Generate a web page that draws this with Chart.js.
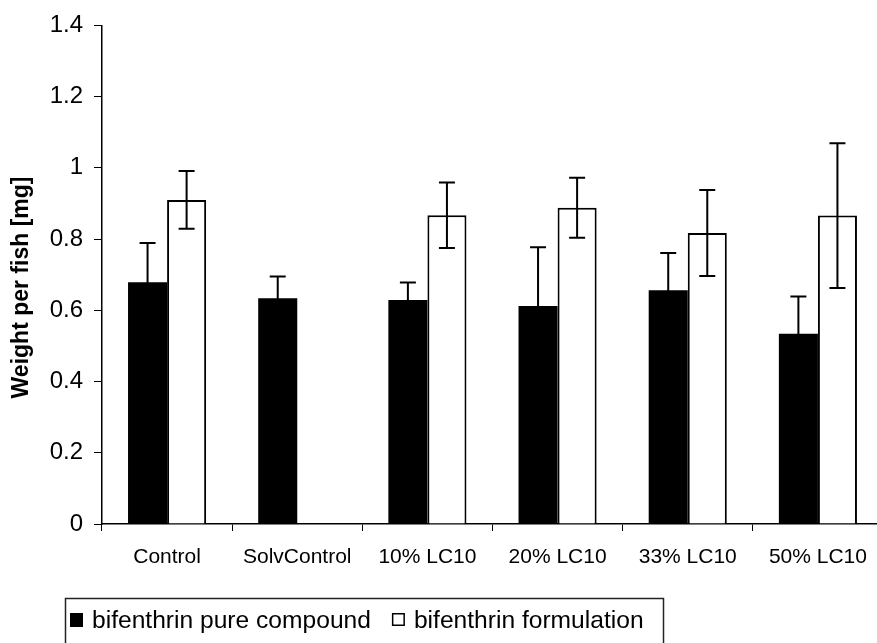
<!DOCTYPE html>
<html>
<head>
<meta charset="utf-8">
<script src="https://cdn.jsdelivr.net/npm/chart.js@4.4.1/dist/chart.umd.min.js"></script>
<style>
  html, body { margin: 0; padding: 0; background: #fff; }
  #wrap { width: 877px; height: 643px; overflow: hidden; position: relative; background: #fff; }
  canvas { display: block; }
</style>
</head>
<body>
<div id="wrap"><canvas id="c" width="883" height="643"></canvas></div>
<script>
// ---- data ----
const categories = ['Control', 'SolvControl', '10% LC10', '20% LC10', '33% LC10', '50% LC10'];
const pureValues = [0.679, 0.634, 0.629, 0.612, 0.656, 0.534];
const pureErrors = [0.110, 0.061, 0.049, 0.165, 0.105, 0.105];
const formValues = [0.910, null, 0.867, 0.888, 0.817, 0.866];
const formErrors = [0.081, null, 0.092, 0.084, 0.121, 0.203];
const yTickLabels = ['0', '0.2', '0.4', '0.6', '0.8', '1', '1.2', '1.4'];
const seriesNames = ['bifenthrin pure compound', 'bifenthrin formulation'];
const yTitle = 'Weight per fish [mg]';

const FONT = "'Liberation Sans', Arial, sans-serif";

const errorBarPlugin = {
  id: 'errorBars',
  afterDatasetsDraw(chart) {
    const ctx = chart.ctx;
    const yScale = chart.scales.y;
    ctx.save();
    ctx.strokeStyle = '#000';
    ctx.lineWidth = 2;
    chart.data.datasets.forEach((ds, di) => {
      const meta = chart.getDatasetMeta(di);
      meta.data.forEach((bar, i) => {
        const v = ds.data[i];
        const e = ds.errors[i];
        if (v == null || e == null) return;
        const x = bar.x;
        const yt = yScale.getPixelForValue(v + e);
        const yb = yScale.getPixelForValue(v - e);
        const cap = 8;
        ctx.beginPath();
        ctx.moveTo(x, yt); ctx.lineTo(x, yb);
        ctx.moveTo(x - cap, yt); ctx.lineTo(x + cap, yt);
        ctx.moveTo(x - cap, yb); ctx.lineTo(x + cap, yb);
        ctx.stroke();
      });
    });
    ctx.restore();
  }
};

const boxLegendPlugin = {
  id: 'boxLegend',
  afterDraw(chart) {
    const ctx = chart.ctx;
    ctx.save();
    ctx.strokeStyle = '#222';
    ctx.lineWidth = 1.5;
    ctx.strokeRect(65.5, 598.5, 598, 70);
    ctx.font = '24.6px ' + FONT;
    ctx.textBaseline = 'alphabetic';
    ctx.fillStyle = '#000';
    let x = 70;
    const boxTop = 613, boxSize = 13, baseline = 628;
    chart.data.datasets.forEach((ds, i) => {
      ctx.lineWidth = 1.5;
      if (ds.backgroundColor === '#000') {
        ctx.fillStyle = '#000';
        ctx.fillRect(x, boxTop, boxSize, boxSize + 1);
      } else {
        ctx.fillStyle = '#fff';
        ctx.fillRect(x, boxTop, boxSize, boxSize);
        ctx.strokeStyle = '#000';
        ctx.strokeRect(x + 0.75, boxTop + 0.75, boxSize - 1.5, boxSize - 1.5);
      }
      x += boxSize + 9;
      ctx.fillStyle = '#000';
      ctx.fillText(ds.label, x, baseline);
      x += ctx.measureText(ds.label).width + 21;
    });
    ctx.restore();
  }
};

new Chart(document.getElementById('c'), {
  type: 'bar',
  data: {
    labels: categories,
    datasets: [
      { label: seriesNames[0], data: pureValues, errors: pureErrors,
        backgroundColor: '#000', borderColor: '#000', borderWidth: 0 },
      { label: seriesNames[1], data: formValues, errors: formErrors,
        backgroundColor: '#fff', borderColor: '#000', borderWidth: 2 }
    ]
  },
  options: {
    responsive: false,
    devicePixelRatio: 1,
    animation: false,
    layout: { padding: { top: 20.7, left: 0, right: 0, bottom: 0 } },
    plugins: { legend: { display: false }, tooltip: { enabled: false } },
    datasets: { bar: { categoryPercentage: 0.6, barPercentage: 1.0 } },
    scales: {
      x: {
        offset: true,
        grid: { display: true, drawOnChartArea: false, drawTicks: true, tickLength: 7, color: '#000', lineWidth: 1, offset: true },
        border: { display: true, color: '#000', width: 1.5 },
        ticks: { font: { family: FONT, size: 21 }, color: '#000', padding: 14, maxRotation: 0, autoSkip: false },
        afterFit(s) { s.height = 119; }
      },
      y: {
        min: 0, max: 1.4,
        grid: { display: true, drawOnChartArea: false, drawTicks: true, tickLength: 8, color: '#000', lineWidth: 1 },
        border: { display: true, color: '#000', width: 1.5 },
        ticks: {
          stepSize: 0.2, color: '#000', padding: 11,
          font: { family: FONT, size: 24 },
          callback: (v, i) => yTickLabels[i]
        },
        title: { display: true, text: yTitle + '    ', color: '#000', font: { family: FONT, size: 23, weight: 'bold' }, padding: { top: 8, bottom: 0 } },
        afterFit(s) { s.width = 102; }
      }
    }
  },
  plugins: [errorBarPlugin, boxLegendPlugin]
});
</script>
</body>
</html>
